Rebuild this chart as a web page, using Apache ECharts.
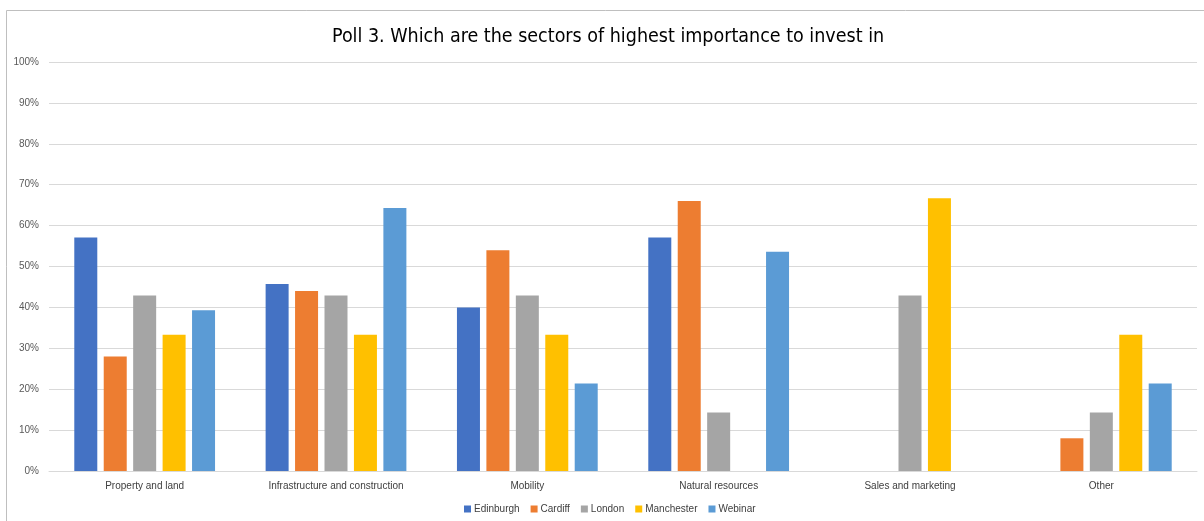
<!DOCTYPE html>
<html>
<head>
<meta charset="utf-8">
<script src="https://cdn.jsdelivr.net/npm/echarts@6/dist/echarts.min.js"></script>
<style>html,body{margin:0;padding:0;background:#fff;}#c{width:1204px;height:521px;}</style>
</head>
<body>
<div id="c"></div>
<script>
const categories = ['Property and land', 'Infrastructure and construction', 'Mobility', 'Natural resources', 'Sales and marketing', 'Other'];
const edinburgh = [57.1, 45.7, 40.0, 57.1, 0, 0];
const cardiff = [28.0, 44.0, 54.0, 66.0, 0, 8.0];
const london = [42.9, 42.9, 42.9, 14.3, 42.9, 14.3];
const manchester = [33.3, 33.3, 33.3, 0, 66.7, 33.3];
const webinar = [39.3, 64.3, 21.4, 53.6, 0, 21.4];
const seriesNames = ['Edinburgh', 'Cardiff', 'London', 'Manchester', 'Webinar'];
const seriesColors = ['#4472C4', '#ED7D31', '#A5A5A5', '#FFC000', '#5B9BD5'];
const title = 'Poll 3. Which are the sectors of highest importance to invest in';

const dataSets = [edinburgh, cardiff, london, manchester, webinar];
const font = "'Liberation Sans', Arial, sans-serif";
const chart = echarts.init(document.getElementById('c'), null, {renderer: 'canvas'});
chart.setOption({
  animation: false,
  backgroundColor: '#fff',
  graphic: [{
    type: 'rect', shape: {x: 6.5, y: 10.5, width: 1400, height: 700},
    style: {fill: 'none', stroke: '#bfbfbf', lineWidth: 1}, silent: true
  }],
  title: {
    text: title, left: 327, top: 22,
    textStyle: {fontFamily: "'Liberation Sans Narrow', 'DejaVu Sans Condensed', sans-serif", fontSize: 19.5, fontWeight: 'normal', color: '#000'}
  },
  legend: {
    data: seriesNames, bottom: 2, left: 459, itemWidth: 7, itemHeight: 7, itemGap: 11,
    icon: 'rect',
    textStyle: {fontFamily: font, fontSize: 10, color: '#404040', padding: [0, 0, 0, -2]}
  },
  grid: {left: 49, right: 7, top: 62, bottom: 50, containLabel: false},
  xAxis: {
    type: 'category', data: categories,
    axisLine: {lineStyle: {color: '#d9d9d9'}},
    axisTick: {show: false},
    axisLabel: {fontFamily: font, fontSize: 10, color: '#404040', margin: 10}
  },
  yAxis: {
    type: 'value', min: 0, max: 100, interval: 10,
    axisLine: {show: false}, axisTick: {show: false},
    splitLine: {lineStyle: {color: '#d9d9d9', width: 1}},
    axisLabel: {fontFamily: font, fontSize: 10, color: '#595959', formatter: '{value}%', margin: 10}
  },
  series: dataSets.map((d, i) => ({
    name: seriesNames[i], type: 'bar', data: d,
    barWidth: 23, barGap: '28%',
    itemStyle: {color: seriesColors[i]}
  }))
});
</script>
</body>
</html>
